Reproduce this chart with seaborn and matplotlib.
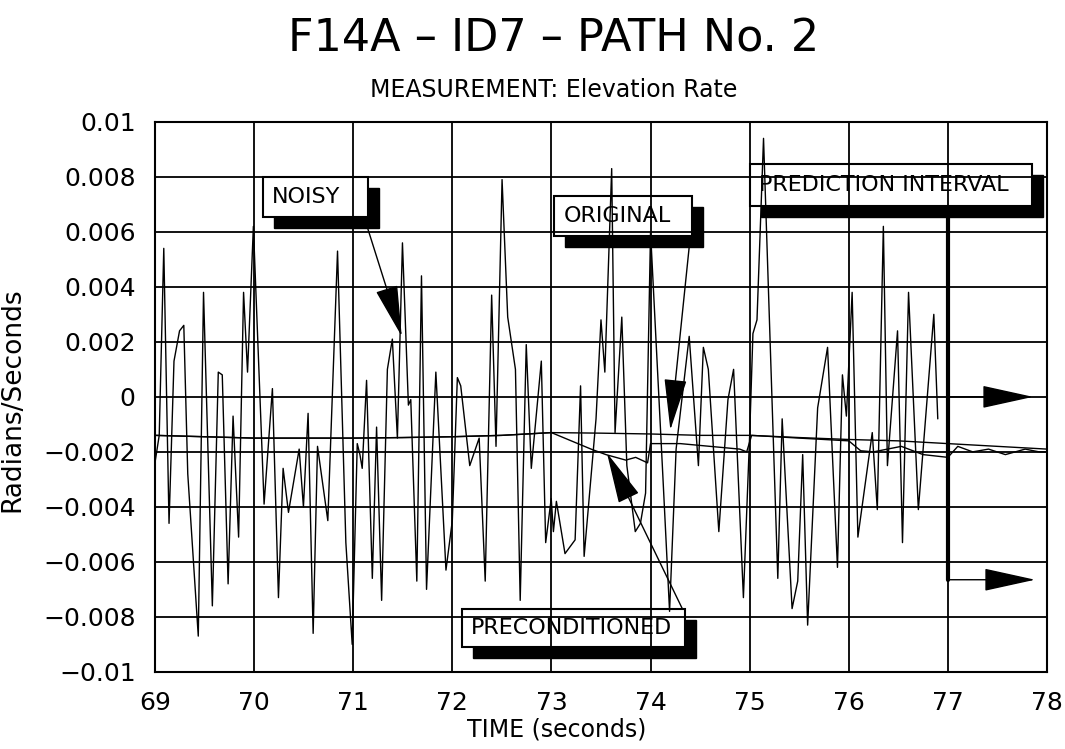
import seaborn as sns
import pandas as pd
import matplotlib.pyplot as plt
from matplotlib.patches import Rectangle

# noisy measurement (time in seconds, rad/s)
noisy_t = [69.00, 69.043, 69.089, 69.142, 69.192, 69.248, 69.291, 69.331, 69.437, 69.490,
           69.579, 69.639, 69.679, 69.738, 69.788, 69.844, 69.894, 69.934, 69.993,
           70.101, 70.185, 70.246, 70.293, 70.347, 70.455, 70.498, 70.545, 70.596, 70.640,
           70.744, 70.842, 70.926, 70.99,
           71.041, 71.068, 71.091, 71.135, 71.193, 71.236, 71.287, 71.345, 71.395, 71.446,
           71.497, 71.557, 71.581, 71.642, 71.689, 71.740, 71.834, 71.936,
           72.00, 72.051, 72.085, 72.176, 72.271, 72.332, 72.397, 72.441, 72.502, 72.559,
           72.637, 72.685, 72.746, 72.797, 72.898, 72.942,
           72.998, 73.02, 73.05, 73.137, 73.239, 73.294, 73.33, 73.45, 73.50, 73.539,
           73.608, 73.642, 73.71, 73.761, 73.846, 73.898, 73.95, 74.0,
           74.126, 74.192, 74.258, 74.39, 74.483, 74.533, 74.583, 74.689, 74.781, 74.838,
           74.937,
           75.0, 75.033, 75.074, 75.140, 75.284, 75.328, 75.428, 75.485, 75.535, 75.585,
           75.686, 75.786, 75.886, 75.936,
           75.976, 76.034, 76.092, 76.237, 76.288, 76.349, 76.39, 76.492, 76.542, 76.603,
           76.702, 76.858, 76.898]
noisy_v = [-0.0024, -0.0014, 0.0054, -0.0046, 0.0013, 0.0024, 0.0026, -0.0028, -0.0087, 0.0038,
           -0.0076, 0.0009, 0.0008, -0.0068, -0.0007, -0.0051, 0.0038, 0.0009, 0.0062,
           -0.0039, 0.0003, -0.0073, -0.0026, -0.0042, -0.0019, -0.0040, -0.0006, -0.0086, -0.0018,
           -0.0045, 0.0053, -0.0053, -0.0090,
           -0.0017, -0.0021, -0.0026, 0.0006, -0.0066, -0.0011, -0.0074, 0.0010, 0.0021, -0.0015,
           0.0056, -0.0003, -0.0001, -0.0067, 0.0044, -0.0070, 0.0009, -0.0063,
           -0.0045, 0.0007, 0.0004, -0.0025, -0.0015, -0.0067, 0.0037, -0.0018, 0.0079, 0.0029,
           0.0010, -0.0074, 0.0019, -0.0026, 0.0013, -0.0053,
           -0.0037, -0.0049, -0.0038, -0.0057, -0.0052, 0.0004, -0.0058, -0.0008, 0.0028, 0.0009,
           0.0083, -0.0013, 0.0029, -0.0025, -0.0049, -0.0046, -0.0035, 0.0060,
           -0.0030, -0.0078, -0.0019, 0.0022, -0.0025, 0.0018, 0.0010, -0.0049, -0.0001, 0.0010,
           -0.0073,
           -0.0014, 0.0023, 0.0028, 0.0094, -0.0066, -0.0008, -0.0077, -0.0067, -0.0021, -0.0083,
           -0.0004, 0.0018, -0.0062, 0.0008,
           -0.0007, 0.0038, -0.0051, -0.0013, -0.0041, 0.0062, -0.0025, 0.0024, -0.0053, 0.0038,
           -0.0041, 0.0030, -0.0008]

# original signal
orig_t = [69.0, 69.5, 70.0, 70.5, 71.0, 71.5, 72.0, 72.5, 73.0, 73.5, 74.0, 74.5,
          75.0, 75.5, 76.0, 76.5, 77.0, 77.5, 78.0]
orig_v = [-0.0014, -0.00145, -0.0015, -0.0015, -0.0015, -0.00148, -0.00145, -0.0014,
          -0.0013, -0.00132, -0.00135, -0.0014, -0.0014, -0.00148, -0.00155, -0.0016,
          -0.0017, -0.0018, -0.0019]

# preconditioned signal
prec_t = [69.0, 69.5, 70.0, 70.5, 71.0, 71.5, 72.0, 72.5, 73.0, 73.2, 73.4, 73.55,
          73.65, 73.75, 73.85, 73.97, 74.0, 74.3, 74.6, 74.9, 74.97, 75.02, 75.5, 76.0,
          76.12, 76.25, 76.53, 76.75, 77.0, 77.1, 77.25, 77.41, 77.58, 77.78, 77.92, 78.0]
prec_v = [-0.0014, -0.00145, -0.0015, -0.0015, -0.0015, -0.00148, -0.00145, -0.0014,
          -0.0013, -0.0016, -0.0019, -0.0021, -0.0022, -0.0023, -0.0022, -0.0024,
          -0.0017, -0.0017, -0.0018, -0.0019, -0.0020, -0.0014, -0.0015, -0.0016,
          -0.00196, -0.0020, -0.0018, -0.0021, -0.0022, -0.0018, -0.0020, -0.0019,
          -0.0021, -0.0019, -0.0020, -0.0020]

x_ticks = [69, 70, 71, 72, 73, 74, 75, 76, 77, 78]
y_ticks = [-0.01, -0.008, -0.006, -0.004, -0.002, 0, 0.002, 0.004, 0.006, 0.008, 0.01]
y_tick_labels = ['\u22120.01', '\u22120.008', '\u22120.006', '\u22120.004', '\u22120.002', '0',
                 '0.002', '0.004', '0.006', '0.008', '0.01']

sns.set_style('white')
plt.rcParams['font.family'] = ['DejaVu Sans']
plt.rcParams['text.color'] = 'black'
plt.rcParams['axes.labelcolor'] = 'black'

fig = plt.figure(figsize=(10.65, 7.49), dpi=100)
ax = fig.add_axes([0.1455, 0.103, 0.8376, 0.7343])

for t, v in [(noisy_t, noisy_v), (orig_t, orig_v), (prec_t, prec_v)]:
    sns.lineplot(x=t, y=v, ax=ax, color='black', lw=1, estimator=None, sort=False, zorder=3)

ax.set_xlim(69, 78)
ax.set_ylim(-0.01, 0.01)
ax.set_xticks(x_ticks)
ax.set_xticklabels([str(v) for v in x_ticks])
ax.set_yticks(y_ticks)
ax.set_yticklabels(y_tick_labels)
ax.tick_params(direction='out', length=8, width=1.2, labelsize=18, colors='black', pad=6)
ax.grid(True, color='black', lw=1.3)
ax.set_axisbelow(False)
for s in ax.spines.values():
    s.set_color('black')
    s.set_linewidth(1.5)

fig.text(557 / 1065, 1 - 729 / 749, 'TIME (seconds)', ha='center', va='center', fontsize=17)
fig.text(12 / 1065, 1 - 400 / 749, 'Radians/Seconds', rotation=90, ha='center', va='center',
         fontsize=19)

fig.text(0.52, 0.948, 'F14A \u2013 ID7 \u2013 PATH No. 2', ha='center', va='center', fontsize=32)
fig.text(0.52, 0.88, 'MEASUREMENT: Elevation Rate', ha='center', va='center', fontsize=17)

# labelled boxes with drop shadows
dx, dy = 0.111, 0.0004


def label_box(x0, x1, y0, y1, text, size=16):
    ax.add_patch(Rectangle((x0 + dx, y0 - dy), x1 - x0, y1 - y0, facecolor='black',
                           edgecolor='black', zorder=1))
    ax.add_patch(Rectangle((x0, y0), x1 - x0, y1 - y0, facecolor='white',
                           edgecolor='black', lw=1.5, zorder=1.2))
    ax.text(x0 + 0.09, (y0 + y1) / 2, text, ha='left', va='center', fontsize=size, zorder=4)


arrow = dict(arrowstyle='-|>,head_length=1.5,head_width=0.33', color='black', lw=1,
             mutation_scale=22, shrinkA=0, shrinkB=0)

label_box(70.09, 71.15, 0.00655, 0.0080, 'NOISY')
ax.annotate('', xy=(71.49, 0.0022), xytext=(71.14, 0.0062), arrowprops=arrow, zorder=4)

label_box(73.03, 74.42, 0.00585, 0.0073, 'ORIGINAL')
ax.annotate('', xy=(74.20, -0.0012), xytext=(74.39, 0.00545), arrowprops=arrow, zorder=4)

label_box(72.10, 74.35, -0.0091, -0.0077, 'PRECONDITIONED')
ax.annotate('', xy=(73.56, -0.00204), xytext=(74.32, -0.0077), arrowprops=arrow, zorder=4)

label_box(75.0, 77.85, 0.00695, 0.00847, 'PREDICTION INTERVAL', size=16)
ax.plot([77, 77], [0.00655, -0.00665], color='black', lw=3, zorder=4)
ax.annotate('', xy=(77.86, 0), xytext=(77, 0), arrowprops=arrow, zorder=4)
ax.annotate('', xy=(77.88, -0.00665), xytext=(77, -0.00665), arrowprops=arrow, zorder=4)

fig.savefig('out.png', dpi=100)
